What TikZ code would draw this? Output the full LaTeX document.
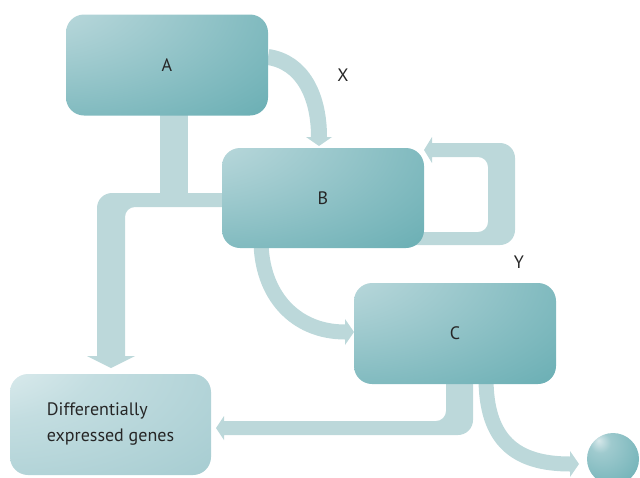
\documentclass[tikz,border=0pt]{standalone}
\usepackage{fontspec}
\setmainfont{PT Sans}
\usetikzlibrary{arrows.meta,calc}
\definecolor{connc}{HTML}{BCD8DA}
\definecolor{bl}{HTML}{CDE2E5}
\definecolor{bd}{HTML}{4A9EA4}
\definecolor{dl}{HTML}{EEF6F7}
\definecolor{dd}{HTML}{8FBFC5}
\pgfdeclareradialshading{boxsh}{\pgfpoint{-42bp}{40bp}}{color(0bp)=(bl); color(14bp)=(bl!85!bd); color(48bp)=(bl!45!bd); color(88bp)=(bd); color(140bp)=(bd)}
\pgfdeclareradialshading{dsh}{\pgfpoint{-42bp}{40bp}}{color(0bp)=(dl); color(30bp)=(dl!55!dd); color(95bp)=(dd); color(140bp)=(dd)}
\pgfdeclareradialshading{ballsh}{\pgfpoint{-14bp}{18bp}}{color(0bp)=(bl!80!white); color(10bp)=(bl!65!bd); color(40bp)=(bl!30!bd); color(70bp)=(bd!92!black); color(80bp)=(bd!92!black)}
\tikzset{
  box/.style={rounded corners=18pt, shading=boxsh, minimum width=202pt, minimum height=101pt, inner sep=0pt, font=\fontsize{18}{22}\selectfont, text=black!85},
  dbox/.style={box, shading=dsh},
  band/.style={draw=connc, line width=#1, -{Triangle[width=26pt,length=9pt,line width=0pt,fill=connc]}},
  lbl/.style={font=\fontsize{18}{22}\selectfont, text=black!85},
}
\begin{document}
\begin{tikzpicture}[x=1pt,y=-1pt]
\useasboundingbox (0,0) rectangle (640,477);
% nodes (positions)
\path (167,65) coordinate (Ac) (323,198) coordinate (Bc) (455,333.5) coordinate (Cc) (110.5,424.5) coordinate (Dc);
% connectors first (under the boxes)
% A -> B (X)
\draw[band=16pt] (268,57) .. controls (302,62) and (319,95) .. (319,146);
% A + B -> D
\fill[connc] (160,110) rectangle (188,200);
\fill[connc] (230,193) -- (112,193) arc[start angle=270,end angle=180,radius=15] -- (97,356) -- (87,356) -- (111,368) -- (135,356) -- (125,356) -- (125,217) arc[start angle=180,end angle=270,radius=10] -- (230,207) -- cycle;
% B self loop
\fill[connc] (432,143) -- (500,143) arc[start angle=270,end angle=360,radius=15] -- (515,230) arc[start angle=0,end angle=90,radius=15] -- (410,245) -- (410,232) -- (478,232) arc[start angle=90,end angle=0,radius=10] -- (488,167) arc[start angle=0,end angle=-90,radius=10] -- (432,157) -- (432,163) -- (424,150) -- (432,137) -- cycle;
% B -> C
\draw[band=15pt] (261,240) .. controls (261,295) and (295,332) .. (354,332);
% C -> D
\fill[connc] (473,378) -- (473,420) arc[start angle=0,end angle=90,radius=15] -- (224,435) -- (224,440) -- (216,428) -- (224,416) -- (224,421) -- (436,421) arc[start angle=90,end angle=0,radius=10] -- (446,378) -- cycle;
% C -> ball
\draw[band=15pt] (486,378) .. controls (486,440) and (515,464) .. (579,464);
% boxes
\node[box] (A) at (Ac) {A};
\node[box, minimum height=100pt] (B) at (Bc) {B};
\node[box] (C) at (Cc) {C};
\node[dbox, minimum width=201pt] (D) at (Dc) {\begin{tabular}{@{}l@{}}Differentially\\[4pt] expressed genes\end{tabular}};
\shade[shading=ballsh] (613,459) circle[radius=26];
\node[lbl] (X) at (343,75) {X};
\node[lbl] (Y) at (519,262) {Y};
\end{tikzpicture}
\end{document}
